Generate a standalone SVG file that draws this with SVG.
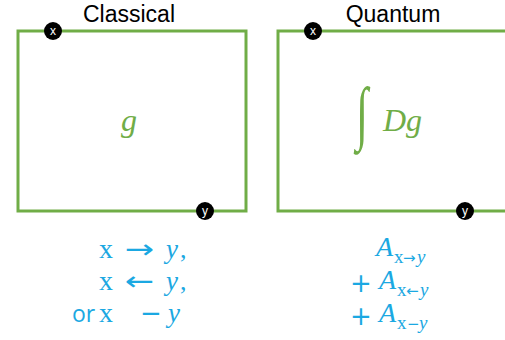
<svg xmlns="http://www.w3.org/2000/svg" width="505" height="340" viewBox="0 0 505 340">
<style>
.box{fill:none;stroke:#70AD47;stroke-width:3}
.dot{fill:#000}
.dl{fill:#fff;font-family:"Liberation Sans",sans-serif;font-size:12px;text-anchor:middle}
.title{font-family:"Liberation Sans",sans-serif;font-size:23px;fill:#000;text-anchor:middle}
.math{font-family:"Liberation Serif",serif;font-style:italic;fill:#70AD47}
.b{font-family:"Open Sans","Liberation Sans",sans-serif;font-size:23px;fill:#1BA8E2}
.s{font-family:"Liberation Serif",serif;fill:#1BA8E2}
.bi{font-family:"Liberation Serif",serif;font-style:italic;fill:#1BA8E2}
.ar{font-family:"DejaVu Sans",sans-serif;fill:#1BA8E2}
</style>
<rect width="505" height="340" fill="#fff"/>
<g id="classical">
<text class="title" x="129" y="22">Classical</text>
<rect class="box" x="18" y="31" width="228" height="180"/>
<text class="math" x="129" y="131" font-size="32" text-anchor="middle">g</text>
</g>
<g id="quantum">
<text class="title" x="393" y="22">Quantum</text>
<polyline class="box" points="507,31 278,31 278,211 507,211"/>
<text class="math" font-size="40" font-style="normal" transform="translate(356,136) scale(1.1,1.75)">∫</text>
<text class="math" x="383" y="131" font-size="32">Dg</text>
</g>
<g id="x1"><circle class="dot" cx="53" cy="31" r="9"/><text class="dl" x="53" y="35">x</text></g>
<g id="y1"><circle class="dot" cx="205" cy="211" r="9"/><text class="dl" x="205" y="215">y</text></g>
<g id="x2"><circle class="dot" cx="313" cy="31" r="9"/><text class="dl" x="313" y="35">x</text></g>
<g id="y2"><circle class="dot" cx="465" cy="211" r="9"/><text class="dl" x="465" y="215">y</text></g>
<g id="classical-text">
<text class="s" x="99" y="258" font-size="28">x</text><text class="ar" font-size="26" transform="translate(125,258) scale(1.35,1)">→</text><text class="bi" x="166" y="258" font-size="27">y</text><text class="s" x="180" y="258" font-size="26">,</text>
<text class="s" x="99" y="290" font-size="28">x</text><text class="ar" font-size="26" transform="translate(125,290) scale(1.35,1)">←</text><text class="bi" x="166" y="290" font-size="27">y</text><text class="s" x="180" y="290" font-size="26">,</text>
<text class="b" x="72" y="322">or</text><text class="s" x="99" y="322" font-size="28">x</text><text class="ar" x="140" y="322" font-size="26">−</text><text class="bi" x="168" y="322" font-size="27">y</text>
</g>
<g id="quantum-text">
<text class="bi" x="376" y="256" font-size="28">A</text><text class="s" x="394" y="263" font-size="19">x</text><text class="ar" x="403" y="263" font-size="15">→</text><text class="bi" x="417" y="263" font-size="19">y</text>
<text class="ar" x="350" y="292" font-size="26">+</text><text class="bi" x="379" y="289" font-size="28">A</text><text class="s" x="397" y="296" font-size="19">x</text><text class="ar" x="406" y="296" font-size="15">←</text><text class="bi" x="420" y="296" font-size="19">y</text>
<text class="ar" x="350" y="325" font-size="26">+</text><text class="bi" x="379" y="322" font-size="28">A</text><text class="s" x="397" y="329" font-size="19">x</text><text class="ar" x="407" y="329" font-size="15">−</text><text class="bi" x="419" y="329" font-size="19">y</text>
</g>
</svg>
